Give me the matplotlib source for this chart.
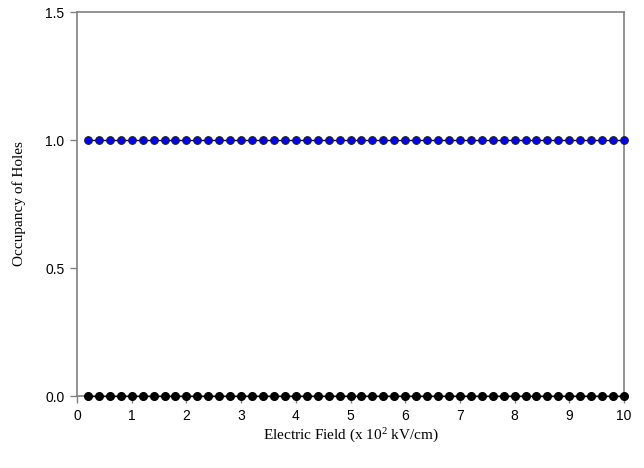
import matplotlib.pyplot as plt

# Data
field = [0.2, 0.4, 0.6, 0.8, 1.0, 1.2, 1.4, 1.6, 1.8, 2.0,
         2.2, 2.4, 2.6, 2.8, 3.0, 3.2, 3.4, 3.6, 3.8, 4.0,
         4.2, 4.4, 4.6, 4.8, 5.0, 5.2, 5.4, 5.6, 5.8, 6.0,
         6.2, 6.4, 6.6, 6.8, 7.0, 7.2, 7.4, 7.6, 7.8, 8.0,
         8.2, 8.4, 8.6, 8.8, 9.0, 9.2, 9.4, 9.6, 9.8, 10.0]

occ_upper = [1.0, 1.0, 1.0, 1.0, 1.0, 1.0, 1.0, 1.0, 1.0, 1.0,
             1.0, 1.0, 1.0, 1.0, 1.0, 1.0, 1.0, 1.0, 1.0, 1.0,
             1.0, 1.0, 1.0, 1.0, 1.0, 1.0, 1.0, 1.0, 1.0, 1.0,
             1.0, 1.0, 1.0, 1.0, 1.0, 1.0, 1.0, 1.0, 1.0, 1.0,
             1.0, 1.0, 1.0, 1.0, 1.0, 1.0, 1.0, 1.0, 1.0, 1.0]

occ_lower = [0.0, 0.0, 0.0, 0.0, 0.0, 0.0, 0.0, 0.0, 0.0, 0.0,
             0.0, 0.0, 0.0, 0.0, 0.0, 0.0, 0.0, 0.0, 0.0, 0.0,
             0.0, 0.0, 0.0, 0.0, 0.0, 0.0, 0.0, 0.0, 0.0, 0.0,
             0.0, 0.0, 0.0, 0.0, 0.0, 0.0, 0.0, 0.0, 0.0, 0.0,
             0.0, 0.0, 0.0, 0.0, 0.0, 0.0, 0.0, 0.0, 0.0, 0.0]

x_ticks = [0, 1, 2, 3, 4, 5, 6, 7, 8, 9, 10]
y_ticks = [0.0, 0.5, 1.0, 1.5]

plt.rcParams['mathtext.fontset'] = 'custom'
plt.rcParams['mathtext.rm'] = 'Liberation Serif'
plt.rcParams['mathtext.it'] = 'Liberation Serif:italic'

fig = plt.figure(figsize=(6.44, 4.68), dpi=100)
ax = fig.add_axes([77 / 644, 72 / 468, 547 / 644, 384 / 468])

ax.plot(field, occ_lower, color='black', linewidth=1.0, marker='o',
        markersize=5.5, markerfacecolor='black', markeredgecolor='black', clip_on=False, zorder=3)
ax.plot(field, occ_upper, color='black', linewidth=1.0, marker='o',
        markersize=5.5, markerfacecolor='#0000ff', markeredgecolor='#202020',
        markeredgewidth=0.8, clip_on=False, zorder=3)

ax.set_xlim(0, 10)
ax.set_ylim(0, 1.5)
ax.set_xticks(x_ticks)
ax.set_yticks(y_ticks)
ax.set_yticklabels([f'{v:.1f}' for v in y_ticks])

for lab in ax.get_xticklabels() + ax.get_yticklabels():
    lab.set_fontfamily('Liberation Sans')
    lab.set_fontsize(10)

ax.tick_params(direction='out', length=5, width=1, color='#808080', pad=4)
for side in ['left', 'bottom', 'top', 'right']:
    ax.spines[side].set_color('#808080')
    ax.spines[side].set_linewidth(1.2)

ax.set_xlabel(r'Electric Field (x 10$^\mathrm{2}$ kV/cm)', family='Liberation Serif', fontsize=11, labelpad=3)
ax.set_ylabel('Occupancy of Holes', family='Liberation Serif', fontsize=11, labelpad=14)

fig.savefig('out.png', dpi=100)
